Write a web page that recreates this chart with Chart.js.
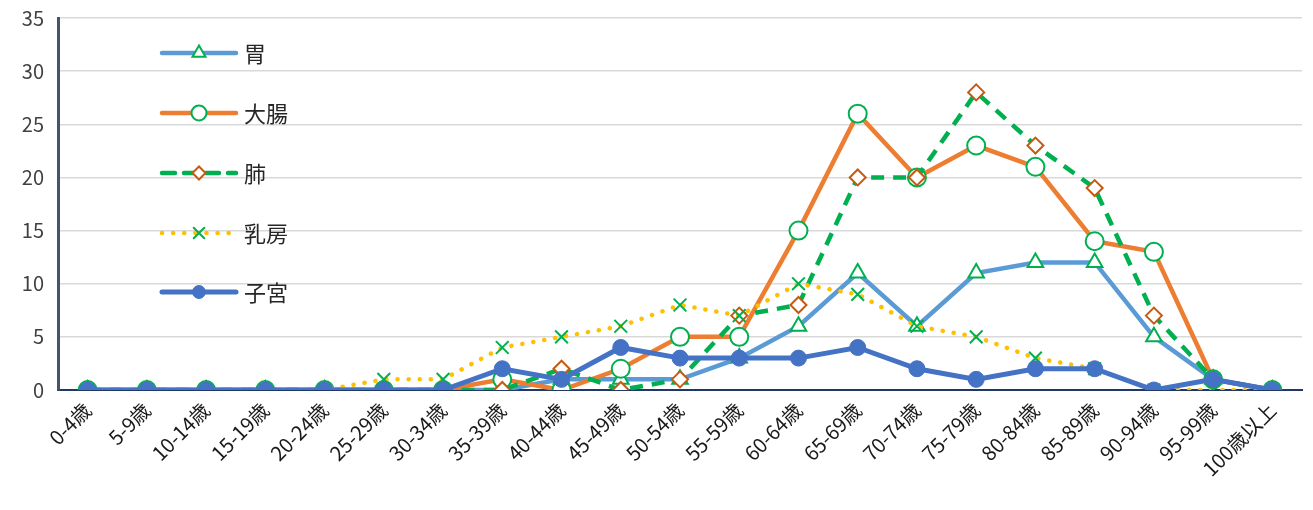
<!DOCTYPE html>
<html>
<head>
<meta charset="utf-8">
<script src="https://cdn.jsdelivr.net/npm/chart.js@4"></script>
<style>
  html, body { margin: 0; padding: 0; background: #fff; }
  #wrap { width: 1313px; height: 510px; }
</style>
</head>
<body>
<div id="wrap"><canvas id="chart"></canvas></div>
<script>
const ageGroups = ['0-4歳', '5-9歳', '10-14歳', '15-19歳', '20-24歳', '25-29歳', '30-34歳', '35-39歳', '40-44歳', '45-49歳', '50-54歳', '55-59歳', '60-64歳', '65-69歳', '70-74歳', '75-79歳', '80-84歳', '85-89歳', '90-94歳', '95-99歳', '100歳以上'];
const stomach    = [0, 0, 0, 0, 0, 0, 0, 0, 1, 1, 1, 3, 6, 11, 6, 11, 12, 12, 5, 1, 0];
const colon      = [0, 0, 0, 0, 0, 0, 0, 1, 0, 2, 5, 5, 15, 26, 20, 23, 21, 14, 13, 1, 0];
const lung       = [0, 0, 0, 0, 0, 0, 0, 0, 2, 0, 1, 7, 8, 20, 20, 28, 23, 19, 7, 1, 0];
const breast     = [0, 0, 0, 0, 0, 1, 1, 4, 5, 6, 8, 7, 10, 9, 6, 5, 3, 2, 0, 0, 0];
const uterus     = [0, 0, 0, 0, 0, 0, 0, 2, 1, 4, 3, 3, 3, 4, 2, 1, 2, 2, 0, 1, 0];
const yTicks     = [0, 5, 10, 15, 20, 25, 30, 35];

const FONT = '"Noto Sans CJK JP", "Noto Sans", sans-serif';

const datasets = [
  { label: '胃', data: stomach, borderColor: '#5B9BD5', borderWidth: 4.5,
    pointStyle: 'triangle', pointRadius: 9, pointBorderColor: '#00B050', pointBackgroundColor: '#fff', pointBorderWidth: 2, order: 4 },
  { label: '大腸', data: colon, borderColor: '#ED7D31', borderWidth: 4.5,
    pointStyle: 'circle', pointRadius: 9, pointBorderColor: '#00B050', pointBackgroundColor: '#fff', pointBorderWidth: 2, order: 3 },
  { label: '肺', data: lung, borderColor: '#00B050', borderWidth: 4.5, borderDash: [13, 9],
    pointStyle: 'rectRot', pointRadius: 8, pointBorderColor: '#C55A11', pointBackgroundColor: '#fff', pointBorderWidth: 2, order: 2 },
  { label: '乳房', data: breast, borderColor: '#FFC000', borderWidth: 4.5, borderDash: [0.1, 11], borderCapStyle: 'round',
    pointStyle: 'cross', rotation: 45, pointRadius: 9, pointBorderColor: '#00B050', pointBackgroundColor: '#00B050', pointBorderWidth: 2, order: 1 },
  { label: '子宮', data: uterus, borderColor: '#4472C4', borderWidth: 5,
    pointStyle: 'circle', pointRadius: 8, pointBorderColor: '#4472C4', pointBackgroundColor: '#4472C4', pointBorderWidth: 1, order: 0 }
];
datasets.forEach(d => { d.tension = 0; d.fill = false; d.backgroundColor = d.pointBackgroundColor; });

// legend drawn inside the plot, like the original
const insideLegend = {
  id: 'insideLegend',
  afterDraw(chart) {
    const ctx = chart.ctx;
    const x0 = 162, x1 = 236, tx = 244;
    const ys = [53, 113, 173, 233, 292];
    chart.data.datasets.forEach((d, i) => {
      const y = ys[i];
      ctx.save();
      ctx.strokeStyle = d.borderColor;
      ctx.lineWidth = d.borderWidth;
      ctx.lineCap = d.borderCapStyle || 'round';
      ctx.setLineDash(d.borderDash || []);
      ctx.beginPath();
      ctx.moveTo(x0, y);
      ctx.lineTo(x1, y);
      ctx.stroke();
      ctx.setLineDash([]);
      ctx.lineWidth = d.pointBorderWidth;
      ctx.strokeStyle = d.pointBorderColor;
      ctx.fillStyle = d.pointBackgroundColor;
      Chart.helpers.drawPoint(ctx, { pointStyle: d.pointStyle, radius: d.pointRadius - 1.5, borderWidth: d.pointBorderWidth, rotation: d.rotation || 0 }, (x0 + x1) / 2, y);
      ctx.fillStyle = '#262626';
      ctx.font = '22px ' + FONT;
      ctx.textBaseline = 'middle';
      ctx.fillText(d.label, tx, y + 1);
      ctx.restore();
    });
  }
};

new Chart(document.getElementById('chart'), {
  type: 'line',
  data: { labels: ageGroups, datasets: datasets },
  options: {
    responsive: true,
    maintainAspectRatio: false,
    animation: false,
    layout: { padding: { top: 18, right: 8, left: 0, bottom: 0 } },
    plugins: { legend: { display: false }, tooltip: { enabled: false } },
    scales: {
      x: {
        offset: true,
        grid: { display: false, offset: true },
        border: { color: '#1F3864', width: 2 },
        afterFit(axis) { axis.height = 120; },
        ticks: { color: '#1a1a1a', font: { family: FONT, size: 20 }, maxRotation: 45, minRotation: 45, autoSkip: false, padding: 0 }
      },
      y: {
        min: 0, max: 35,
        afterBuildTicks(axis) { axis.ticks = yTicks.map(v => ({ value: v })); },
        afterFit(axis) { axis.width = 58; axis.paddingTop = 0; axis.paddingBottom = 0; },
        grid: { color: '#D9D9D9', lineWidth: 1.5, drawTicks: false },
        border: { color: '#44546A', width: 3 },
        ticks: { color: '#404040', font: { family: FONT, size: 20 }, padding: 14 }
      }
    }
  },
  plugins: [insideLegend]
});
</script>
</body>
</html>
